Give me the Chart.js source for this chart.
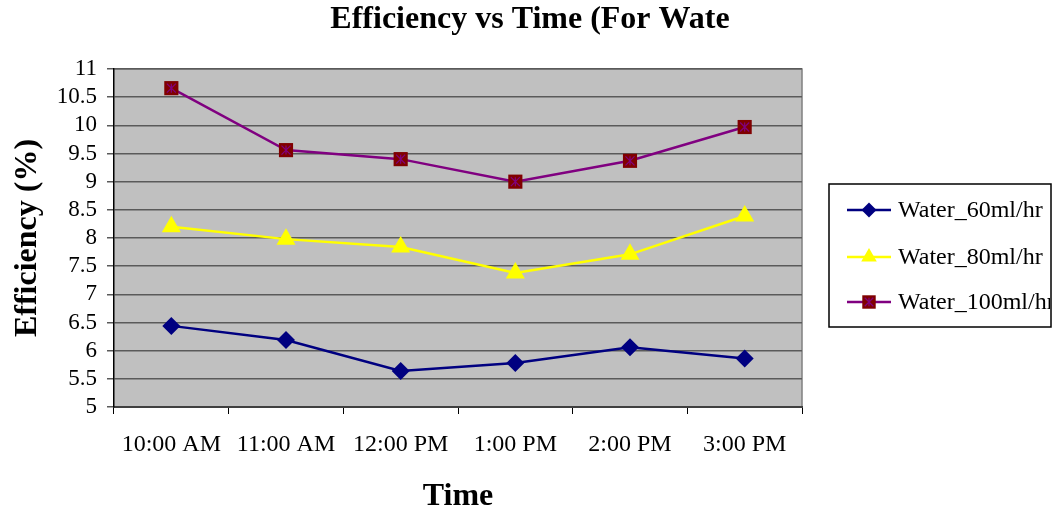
<!DOCTYPE html>
<html>
<head>
<meta charset="utf-8">
<title>Efficiency vs Time</title>
<script src="https://cdn.jsdelivr.net/npm/chart.js@4/dist/chart.umd.min.js"></script>
<style>
  body { margin: 0; background: #fff; }
  #line-chart { display: block; }
</style>
</head>
<body>
<canvas id="line-chart" width="1054" height="513"></canvas>
<script>
// time of reading
var times = ['10:00 AM', '11:00 AM', '12:00 PM', '1:00 PM', '2:00 PM', '3:00 PM'];

// efficiency (%) for each water flow rate
var water60 = [6.44, 6.19, 5.64, 5.78, 6.06, 5.86];
var water80 = [8.20, 7.98, 7.84, 7.38, 7.71, 8.39];
var water100 = [10.66, 9.56, 9.40, 9.00, 9.37, 9.97];

var seriesNames = ['Water_60ml/hr', 'Water_80ml/hr', 'Water_100ml/hr'];

// y axis runs 5 .. 11 in steps of 0.5
var yMin = 5, yMax = 11, yStep = 0.5;

var chartTitle = 'Efficiency vs Time (For Wate';

var serif = "'Liberation Serif', 'Times New Roman', serif";

// marker looks, also used by the legend box
var styles = [
  { line: '#000080', fill: '#000080', point: 'rectRot', r: 9, lr: 7.5 },
  { line: '#FFFF00', fill: '#FFFF00', point: 'triangle', r: 11, lr: 9 },
  { line: '#800080', fill: '#800000', point: 'rect', r: 10, lr: 9.5 }
];

function marker(ctx, st, x, y, r) {
  ctx.save();
  ctx.fillStyle = st.fill;
  ctx.strokeStyle = st.fill;
  ctx.lineWidth = 1;
  ctx.beginPath();
  if (st.point == 'rectRot') {
    ctx.moveTo(x, y - r); ctx.lineTo(x + r, y); ctx.lineTo(x, y + r); ctx.lineTo(x - r, y);
  } else if (st.point == 'triangle') {
    ctx.moveTo(x, y - r);
    ctx.lineTo(x + r * 0.866, y + r * 0.5);
    ctx.lineTo(x - r * 0.866, y + r * 0.5);
  } else {
    var s = r * Math.SQRT1_2;
    ctx.rect(x - s, y - s, 2 * s, 2 * s);
  }
  ctx.closePath();
  ctx.fill();
  if (st.point == 'rect') {
    // purple asterisk on the square
    var a = r * 0.45;
    ctx.strokeStyle = '#800080';
    ctx.lineWidth = 1.2;
    ctx.beginPath();
    ctx.moveTo(x, y - a); ctx.lineTo(x, y + a);
    ctx.moveTo(x - a, y - a); ctx.lineTo(x + a, y + a);
    ctx.moveTo(x + a, y - a); ctx.lineTo(x - a, y + a);
    ctx.stroke();
  }
  ctx.restore();
}

// grey plot background plus the thin frame on top/right
var plotArea = {
  id: 'plotArea',
  beforeDraw: function(chart) {
    var a = chart.chartArea, ctx = chart.ctx;
    ctx.save();
    ctx.fillStyle = '#C0C0C0';
    ctx.fillRect(a.left, a.top, a.right - a.left, a.bottom - a.top);
    ctx.strokeStyle = '#808080';
    ctx.lineWidth = 1.5;
    ctx.beginPath();
    ctx.moveTo(a.left, a.top);
    ctx.lineTo(a.right, a.top);
    ctx.lineTo(a.right, a.bottom);
    ctx.stroke();
    ctx.restore();
  }
};

// title centred on the whole page, not just the plot
var pageTitle = {
  id: 'pageTitle',
  afterDraw: function(chart) {
    var ctx = chart.ctx;
    ctx.save();
    ctx.fillStyle = '#000';
    ctx.font = 'bold 32px ' + serif;
    ctx.textAlign = 'center';
    ctx.textBaseline = 'middle';
    ctx.fillText(chartTitle, 530, 20);
    ctx.restore();
  }
};

// boxed legend on the right, text cut at the box edge
var boxLegend = {
  id: 'boxLegend',
  afterDraw: function(chart) {
    var ctx = chart.ctx;
    var bx = 829, by = 184, bw = 222, bh = 143;
    ctx.save();
    ctx.fillStyle = '#fff';
    ctx.fillRect(bx, by, bw, bh);
    ctx.strokeStyle = '#000';
    ctx.lineWidth = 1.5;
    ctx.strokeRect(bx, by, bw, bh);
    var rows = [210, 257, 302];
    chart.data.datasets.forEach(function(ds, i) {
      if (i > 2) return;
      var st = styles[i], y = rows[i];
      ctx.strokeStyle = st.line;
      ctx.lineWidth = 2.5;
      ctx.beginPath();
      ctx.moveTo(847, y); ctx.lineTo(891, y);
      ctx.stroke();
      marker(ctx, st, 869, y, st.lr);
      ctx.save();
      ctx.beginPath();
      ctx.rect(bx, by, bw - 1, bh);
      ctx.clip();
      ctx.fillStyle = '#000';
      ctx.font = '24px ' + serif;
      ctx.textBaseline = 'middle';
      ctx.fillText(ds.label, 898, y + 1);
      ctx.restore();
    });
    ctx.restore();
  }
};

// points are drawn by hand so the square can carry its asterisk
var markers = {
  id: 'markers',
  afterDatasetsDraw: function(chart) {
    var ctx = chart.ctx;
    chart.data.datasets.forEach(function(ds, i) {
      var meta = chart.getDatasetMeta(i);
      meta.data.forEach(function(pt) {
        marker(ctx, styles[i], pt.x, pt.y, styles[i].r);
      });
    });
  }
};

var series = [water60, water80, water100];
var datasets = [];
for (var i = 0; i < series.length; i++) {
  datasets.push({
    label: seriesNames[i],
    data: series[i],
    borderColor: styles[i].line,
    borderWidth: 2.5,
    pointRadius: 0,
    pointHoverRadius: 0,
    fill: false,
    tension: 0
  });
}

new Chart(document.getElementById('line-chart'), {
  type: 'line',
  data: { labels: times, datasets: datasets },
  options: {
    responsive: false,
    animation: false,
    events: [],
    layout: { padding: { left: 0, right: 252, top: 69, bottom: 0 } },
    plugins: {
      legend: { display: false },
      tooltip: { enabled: false },
      title: { display: false }
    },
    scales: {
      x: {
        offset: true,
        grid: { offset: true, drawOnChartArea: false, drawTicks: true, tickLength: 7, tickColor: '#000', tickWidth: 1 },
        border: { color: '#404040', width: 2 },
        ticks: { color: '#000', font: { family: serif, size: 24 }, padding: 16, maxRotation: 0, autoSkip: false },
        title: { display: true, text: 'Time', color: '#000', font: { family: serif, size: 32, weight: 'bold', lineHeight: 1 }, padding: { top: 0, bottom: 0 } },
        afterFit: function(scale) { scale.height = 106; }
      },
      y: {
        min: yMin,
        max: yMax,
        grid: { color: '#5a5a5a', lineWidth: 1.5, tickLength: 7, tickColor: '#5a5a5a' },
        border: { color: '#000', width: 1.5 },
        ticks: {
          stepSize: yStep,
          autoSkip: false,
          color: '#000',
          font: { family: serif, size: 23 },
          padding: 10,
          callback: function(v) { return String(Math.round(v * 10) / 10); }
        },
        title: { display: true, text: 'Efficiency (%)', color: '#000', font: { family: serif, size: 32, weight: 'bold', lineHeight: 1 }, padding: { top: 12, bottom: 0 } },
        afterFit: function(scale) { scale.width = 114; }
      }
    }
  },
  plugins: [plotArea, markers, pageTitle, boxLegend]
});
</script>
</body>
</html>
